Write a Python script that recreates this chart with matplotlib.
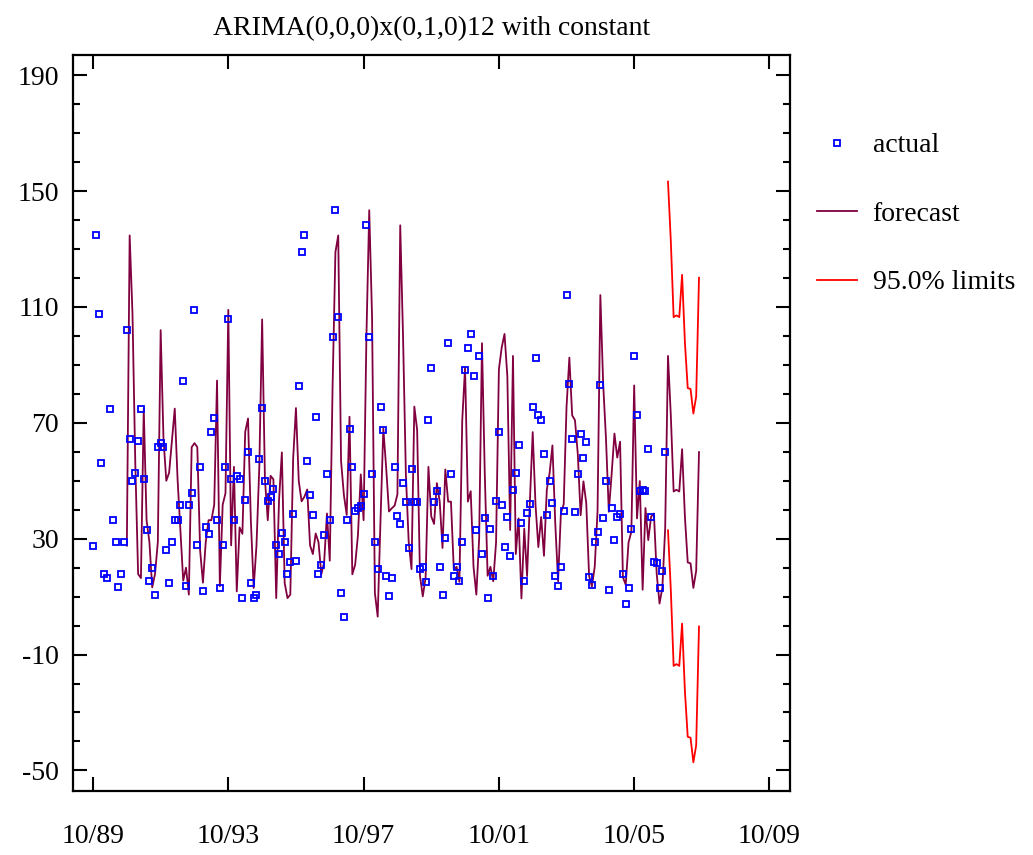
import numpy as np
import matplotlib
matplotlib.use("Agg")
import matplotlib.pyplot as plt
from matplotlib.ticker import MultipleLocator, FixedLocator

# ---- data (monthly, starting 10/89) ----
title = "ARIMA(0,0,0)x(0,1,0)12 with constant"
start_label = "10/89"

actual = [
    27.6, 134.7, 107.7, 56.0, 17.8, 16.4, 74.9, 36.4, 28.9, 13.2, 17.8, 28.9,
    102.0, 64.5, 50.0, 52.8, 63.9, 74.9, 50.5, 32.9, 15.5, 20.0, 10.7, 61.6,
    63.0, 61.6, 26.0, 14.8, 28.9, 36.4, 36.4, 41.7, 84.6, 13.6, 41.7, 45.7,
    109.0, 27.7, 54.8, 11.8, 33.9, 31.7, 66.9, 71.5, 36.3, 13.0, 27.7, 54.8,
    105.7, 50.5, 36.4, 51.7, 50.5, 9.5, 43.3, 59.8, 14.7, 9.5, 10.7, 57.5,
    75.1, 49.9, 42.9, 44.5, 47.0, 27.7, 24.7, 31.8, 28.8, 17.7, 21.8, 38.7,
    22.4, 82.6, 128.9, 134.7, 56.9, 45.2, 38.2, 72.1, 17.7, 21.0, 31.3, 52.2,
    36.4, 99.7, 143.4, 106.7, 11.3, 3.1, 36.4, 68.0, 54.6, 39.4, 40.5, 41.4,
    45.3, 138.2, 99.7, 52.2, 28.9, 19.5, 75.6, 67.5, 17.2, 10.1, 16.6, 54.8,
    37.7, 35.1, 49.2, 42.8, 26.8, 53.9, 42.8, 42.8, 19.4, 20.3, 15.1, 70.9,
    89.1, 42.8, 46.4, 20.3, 10.7, 30.1, 97.5, 52.2, 17.2, 20.3, 15.3, 28.7,
    88.4, 96.0, 100.7, 86.1, 33.0, 93.1, 24.7, 37.0, 9.4, 33.5, 17.1, 42.9,
    66.8, 41.6, 27.1, 37.5, 24.1, 46.9, 52.7, 62.2, 35.4, 15.3, 38.8, 41.9,
    75.5, 92.5, 72.6, 70.9, 59.2, 38.1, 49.8, 42.3, 17.2, 13.5, 20.3, 39.4,
    114.1, 83.5, 64.5, 39.3, 52.3, 66.3, 58.0, 63.5, 16.7, 14.1, 28.7, 32.4,
    82.9, 37.0, 49.9, 12.4, 40.6, 29.5, 37.6, 38.7, 17.8, 7.6, 13.1, 33.5,
    93.1, 72.6, 46.3, 46.9, 46.3, 60.9, 37.6, 21.8, 21.5, 13.0, 18.9, 59.9,
]

# forecast starts 12 months after the first observation (10/90)
forecast_offset = 12
forecast = [
    27.6, 134.7, 107.7, 56.0, 17.8, 16.4, 74.9, 36.4, 28.9, 13.2, 17.8, 28.9,
    102.0, 64.5, 50.0, 52.8, 63.9, 74.9, 50.5, 32.9, 15.5, 20.0, 10.7, 61.6,
    63.0, 61.6, 26.0, 14.8, 28.9, 36.4, 36.4, 41.7, 84.6, 13.6, 41.7, 45.7,
    109.0, 27.7, 54.8, 11.8, 33.9, 31.7, 66.9, 71.5, 36.3, 13.0, 27.7, 54.8,
    105.7, 50.5, 36.4, 51.7, 50.5, 9.5, 43.3, 59.8, 14.7, 9.5, 10.7, 57.5,
    75.1, 49.9, 42.9, 44.5, 47.0, 27.7, 24.7, 31.8, 28.8, 17.7, 21.8, 38.7,
    22.4, 82.6, 128.9, 134.7, 56.9, 45.2, 38.2, 72.1, 17.7, 21.0, 31.3, 52.2,
    36.4, 99.7, 143.4, 106.7, 11.3, 3.1, 36.4, 68.0, 54.6, 39.4, 40.5, 41.4,
    45.3, 138.2, 99.7, 52.2, 28.9, 19.5, 75.6, 67.5, 17.2, 10.1, 16.6, 54.8,
    37.7, 35.1, 49.2, 42.8, 26.8, 53.9, 42.8, 42.8, 19.4, 20.3, 15.1, 70.9,
    89.1, 42.8, 46.4, 20.3, 10.7, 30.1, 97.5, 52.2, 17.2, 20.3, 15.3, 28.7,
    88.4, 96.0, 100.7, 86.1, 33.0, 93.1, 24.7, 37.0, 9.4, 33.5, 17.1, 42.9,
    66.8, 41.6, 27.1, 37.5, 24.1, 46.9, 52.7, 62.2, 35.4, 15.3, 38.8, 41.9,
    75.5, 92.5, 72.6, 70.9, 59.2, 38.1, 49.8, 42.3, 17.2, 13.5, 20.3, 39.4,
    114.1, 83.5, 64.5, 39.3, 52.3, 66.3, 58.0, 63.5, 16.7, 14.1, 28.7, 32.4,
    82.9, 37.0, 49.9, 12.4, 40.6, 29.5, 37.6, 38.7, 17.8, 7.6, 13.1, 33.5,
    93.1, 72.6, 46.3, 46.9, 46.3, 60.9, 37.6, 21.8, 21.5, 13.0, 18.9, 59.9,
]

# 95% limits for the 12 out-of-sample months
upper = [153.3, 132.8, 106.5, 107.1, 106.5, 121.1, 97.8, 82.0, 81.7, 73.2, 79.1, 120.1]
lower = [32.9, 12.4, -13.9, -13.3, -13.9, 0.7, -22.6, -38.4, -38.7, -47.2, -41.3, -0.3]

x_tick_labels = ["10/89", "10/93", "10/97", "10/01", "10/05", "10/09"]
y_ticks = [-50, -10, 30, 70, 110, 150, 190]

# ---- drawing ----
FONT = "Liberation Serif"
FS = 20
plt.rcParams["font.family"] = [FONT, "DejaVu Serif"]
plt.rcParams["axes.unicode_minus"] = False

fig = plt.figure(figsize=(10.33, 8.55), dpi=100)
ax = fig.add_axes([0.0704, 0.0752, 0.6944, 0.8605])

t_act = np.arange(len(actual))
t_fc = np.arange(len(forecast)) + forecast_offset
t_lim = np.arange(len(upper)) + len(actual)

ax.plot(t_fc, forecast, color="#800040", lw=1.3, label="forecast", zorder=2)
ax.plot(t_act, actual, linestyle="none", marker="s", markersize=4.8,
        markerfacecolor="none", markeredgecolor="#0000ff", markeredgewidth=1.3,
        label="actual", zorder=3)
ax.plot(t_lim, upper, color="#ff0000", lw=1.3, label="95.0% limits", zorder=2)
ax.plot(t_lim, lower, color="#ff0000", lw=1.3, zorder=2)

ax.set_xlim(-7.2, 247.3)
ax.set_ylim(-57, 197)

ax.xaxis.set_major_locator(FixedLocator(np.arange(len(x_tick_labels)) * 48))
ax.set_xticklabels(x_tick_labels)
ax.set_yticks(y_ticks)
ax.yaxis.set_minor_locator(MultipleLocator(10))

ax.tick_params(axis="both", which="both", direction="in", top=True, right=True,
               width=1.5, labelsize=FS)
ax.tick_params(axis="both", which="major", length=10)
ax.tick_params(axis="both", which="minor", length=5)
ax.tick_params(axis="x", pad=24)
ax.tick_params(axis="y", pad=10)
for s in ax.spines.values():
    s.set_linewidth(1.6)

ax.set_title(title, fontsize=FS, pad=14)

handles, labels = ax.get_legend_handles_labels()
order = [labels.index("actual"), labels.index("forecast"), labels.index("95.0% limits")]
leg = ax.legend([handles[i] for i in order], [labels[i] for i in order],
                loc="upper left", bbox_to_anchor=(817 / 1033, 1 - 133 / 855),
                bbox_transform=fig.transFigure, frameon=False, fontsize=FS,
                borderpad=0, borderaxespad=0, handlelength=1.45,
                handletextpad=0.55, labelspacing=1.55, markerscale=1.0)

fig.savefig("out.png", dpi=100)
